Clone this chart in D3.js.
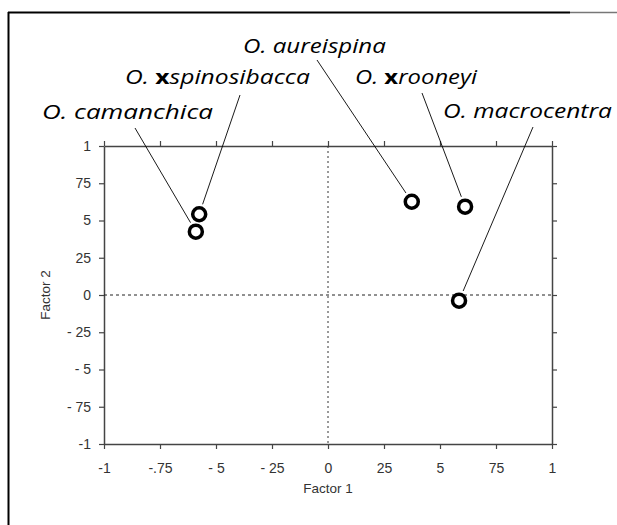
<!DOCTYPE html>
<html>
<head>
<meta charset="utf-8">
<script src="https://cdn.jsdelivr.net/npm/d3@7"></script>
<style>
  body { margin: 0; background: white; }
  svg { display: block; }
</style>
</head>
<body>
<div class="wrapper"></div>
<script>
const species = ["camanchica", "spinosibacca", "aureispina", "rooneyi", "macrocentra"];
const hybrid = [false, true, false, true, false];
const factor1 = [-0.59, -0.575, 0.374, 0.612, 0.585];
const factor2 = [0.425, 0.542, 0.626, 0.593, -0.038];

const xTicks = [-1, -0.75, -0.5, -0.25, 0, 0.25, 0.5, 0.75, 1];
const xTickLabels = ["-1", "-.75", "- 5", "- 25", "0", "25", "5", "75", "1"];
const yTicks = [-1, -0.75, -0.5, -0.25, 0, 0.25, 0.5, 0.75, 1];
const yTickLabels = ["-1", "- 75", "- 5", "- 25", "0", "25", "5", "75", "1"];

// where each label sits (left, baseline, width) and where its leader starts
const labelLayout = [
  { x: 42, y: 119, w: 171, lx: 135, ly: 128 },
  { x: 125, y: 84, w: 185, lx: 240, ly: 95 },
  { x: 243, y: 53, w: 143, lx: 317, ly: 60 },
  { x: 355, y: 84, w: 122, lx: 422, ly: 93 },
  { x: 443, y: 118, w: 169, lx: 533, ly: 127 }
];

const width = 617, height = 525;
const svg = d3.select(".wrapper")
  .append("svg")
  .attr("width", width)
  .attr("height", height);

svg.append("rect").attr("width", width).attr("height", height).attr("fill", "white");

// scanned page frame
svg.append("line")
  .attr("x1", 8.5).attr("y1", 12).attr("x2", 8.5).attr("y2", height)
  .attr("stroke", "black").attr("stroke-width", 2);
svg.append("line")
  .attr("x1", 8).attr("y1", 12.5).attr("x2", 570).attr("y2", 12.5)
  .attr("stroke", "black").attr("stroke-width", 2);
svg.append("line")
  .attr("x1", 570).attr("y1", 12.5).attr("x2", width).attr("y2", 12.5)
  .attr("stroke", "#777").attr("stroke-width", 1.5);

const x = d3.scaleLinear().domain([-1, 1]).range([104, 552]);
const y = d3.scaleLinear().domain([-1, 1]).range([444, 146]);

const styleAxis = g => {
  g.select(".domain").attr("stroke", "#444").attr("stroke-width", 1.5);
  g.selectAll(".tick line").attr("stroke", "#444").attr("stroke-width", 1.2);
  g.selectAll(".tick text")
    .attr("fill", "#333")
    .style("font-family", "'Liberation Sans', Arial, sans-serif")
    .style("font-size", "14px");
};

svg.append("g")
  .attr("transform", `translate(0,${y(-1)})`)
  .call(d3.axisBottom(x).tickValues(xTicks).tickSize(5).tickSizeOuter(0).tickPadding(14)
    .tickFormat((d, i) => xTickLabels[i]))
  .call(styleAxis);

svg.append("g")
  .attr("transform", `translate(0,${y(1)})`)
  .call(d3.axisTop(x).tickValues(xTicks).tickSize(5).tickSizeOuter(0).tickFormat(""))
  .call(styleAxis);

svg.append("g")
  .attr("transform", `translate(${x(-1)},0)`)
  .call(d3.axisLeft(y).tickValues(yTicks).tickSize(5).tickSizeOuter(0).tickPadding(8)
    .tickFormat((d, i) => yTickLabels[i]))
  .call(styleAxis);

svg.append("g")
  .attr("transform", `translate(${x(1)},0)`)
  .call(d3.axisRight(y).tickValues(yTicks).tickSize(5).tickSizeOuter(0).tickFormat(""))
  .call(styleAxis);

// zero lines
svg.append("line")
  .attr("x1", x(-1)).attr("x2", x(1))
  .attr("y1", y(0)).attr("y2", y(0))
  .attr("stroke", "#222").attr("stroke-width", 1)
  .attr("stroke-dasharray", "3,3");
svg.append("line")
  .attr("x1", x(0)).attr("x2", x(0))
  .attr("y1", y(1)).attr("y2", y(-1))
  .attr("stroke", "#333").attr("stroke-width", 1)
  .attr("stroke-dasharray", "2,3");

// axis titles
svg.append("text")
  .attr("x", x(0)).attr("y", 493)
  .attr("text-anchor", "middle")
  .attr("fill", "#333")
  .style("font-family", "'Liberation Sans', Arial, sans-serif")
  .style("font-size", "13.5px")
  .text("Factor 1");

svg.append("text")
  .attr("transform", `translate(50,${y(0)}) rotate(-90)`)
  .attr("text-anchor", "middle")
  .attr("fill", "#333")
  .style("font-family", "'Liberation Sans', Arial, sans-serif")
  .style("font-size", "13.5px")
  .text("Factor 2");

const points = species.map((s, i) => ({
  name: s,
  hybrid: hybrid[i],
  px: x(factor1[i]),
  py: y(factor2[i]),
  lay: labelLayout[i]
}));

// leader lines, stopping just short of the circle
svg.selectAll("line.leader")
  .data(points)
  .enter()
  .append("line")
  .attr("class", "leader")
  .attr("x1", d => d.lay.lx)
  .attr("y1", d => d.lay.ly)
  .attr("x2", d => {
    let dx = d.lay.lx - d.px, dy = d.lay.ly - d.py, len = Math.hypot(dx, dy);
    return d.px + dx / len * 10.5;
  })
  .attr("y2", d => {
    let dx = d.lay.lx - d.px, dy = d.lay.ly - d.py, len = Math.hypot(dx, dy);
    return d.py + dy / len * 10.5;
  })
  .attr("stroke", "black")
  .attr("stroke-width", 0.9);

svg.selectAll("circle.pt")
  .data(points)
  .enter()
  .append("circle")
  .attr("class", "pt")
  .attr("cx", d => d.px)
  .attr("cy", d => d.py)
  .attr("r", 6.5)
  .attr("fill", "white")
  .attr("stroke", "black")
  .attr("stroke-width", 3.5);

// species labels, stretched to the width of the original lettering
const labels = svg.selectAll("text.species")
  .data(points)
  .enter()
  .append("text")
  .attr("class", "species")
  .style("font-family", "'Open Sans', 'DejaVu Sans', sans-serif")
  .style("font-size", "20px")
  .style("font-style", "italic")
  .attr("fill", "black");

labels.append("tspan").text("O. ");
labels.filter(d => d.hybrid)
  .append("tspan")
  .style("font-style", "normal")
  .style("font-weight", "bold")
  .text("x");
labels.append("tspan").text(d => d.name);

labels.each(function(d) {
  const w = this.getComputedTextLength();
  d3.select(this)
    .attr("transform", `translate(${d.lay.x},${d.lay.y}) scale(${d.lay.w / w},1)`);
});
</script>
</body>
</html>
